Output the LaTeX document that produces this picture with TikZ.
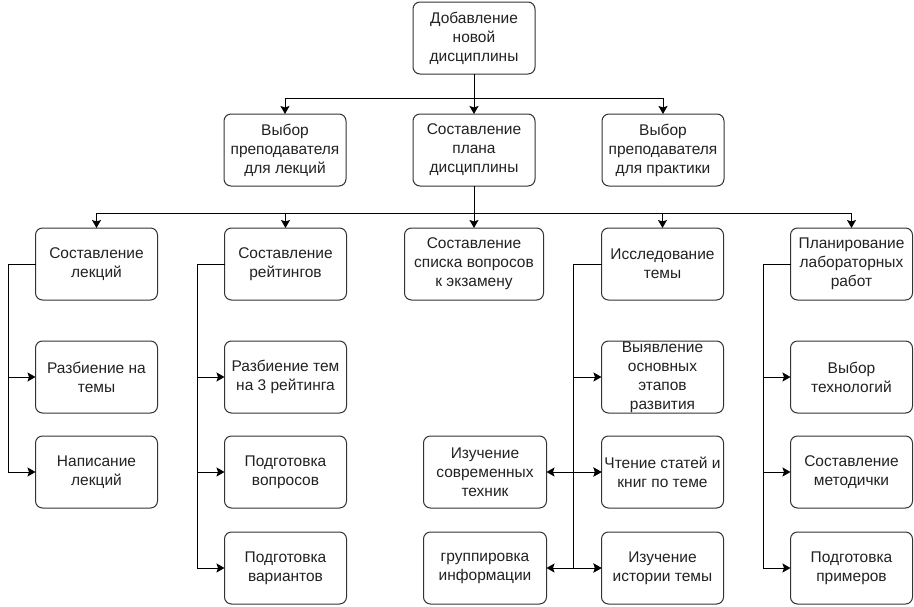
\documentclass[tikz,border=0pt]{standalone}
\usepackage{fontspec}
\setmainfont{Liberation Sans}
\usepackage{tikz}
\usetikzlibrary{arrows.meta,positioning}
\definecolor{boxline}{RGB}{51, 51, 51}
\definecolor{boxtext}{RGB}{34, 34, 34}

\begin{document}
\begin{tikzpicture}[
    box/.style={rectangle, draw=boxline, fill=white, minimum width=122pt, minimum height=72pt, align=center, rounded corners=7pt, line width=1pt, text=boxtext, font=\fontsize{15.5pt}{19pt}\selectfont, inner xsep=2pt, outer sep=0pt},
    widebox/.style={box, minimum width=139pt},
    arrow/.style={-{Stealth[length=8pt,width=9pt,inset=1.5pt]}, line width=1pt, black},
    twoarrow/.style={{Stealth[length=8pt,width=9pt,inset=1.5pt]}-{Stealth[length=8pt,width=9pt,inset=1.5pt]}, line width=1pt, black},
    bus/.style={line width=1pt, black},
]
\useasboundingbox (0pt,0pt) rectangle (914pt,-606pt);

% Level 1
\node[box] (add) at (474pt,-38pt) {Добавление\\новой\\дисциплины};

% Level 2
\node[box, below=40pt of add] (plan) {Составление\\плана\\дисциплины};
\node[box, left=67pt of plan] (tlec) {Выбор\\преподавателя\\для лекций};
\node[box, right=67pt of plan] (tprac) {Выбор\\преподавателя\\для практики};

% Level 3
\node[widebox, below=42pt of plan] (exam) {Составление\\списка вопросов\\к экзамену};
\node[box, left=58pt of exam] (rate) {Составление\\рейтингов};
\node[box, left=67pt of rate] (lect) {Составление\\лекций};
\node[box, right=58pt of exam] (study) {Исследование\\темы};
\node[box, right=67pt of study] (lab) {Планирование\\лабораторных\\работ};

% Lectures
\node[box, below=41pt of lect] (lect1) {Разбиение на\\темы};
\node[box, below=23pt of lect1] (lect2) {Написание\\лекций};

% Ratings
\node[box, below=41pt of rate] (rate1) {Разбиение тем\\на 3 рейтинга};
\node[box, below=23pt of rate1] (rate2) {Подготовка\\вопросов};
\node[box, below=24pt of rate2] (rate3) {Подготовка\\вариантов};

% Research
\node[box, inner ysep=0pt, below=41pt of study] (study1) {Выявление\\основных\\этапов\\развития};
\node[box, below=23pt of study1] (study2) {Чтение статей и\\книг по теме};
\node[box, below=24pt of study2] (study3) {Изучение\\истории темы};
\node[box, minimum width=123pt, left=55pt of study2] (modern) {Изучение\\современных\\техник};
\node[box, minimum width=123pt, left=55pt of study3] (group) {группировка\\информации};

% Labs
\node[box, below=41pt of lab] (lab1) {Выбор\\технологий};
\node[box, below=23pt of lab1] (lab2) {Составление\\методички};
\node[box, below=24pt of lab2] (lab3) {Подготовка\\примеров};

% Buses
\coordinate[below=24pt of add.south] (bustop);
\coordinate[below=27pt of plan.south] (busmid);
\coordinate[left=27pt of lect.west] (buslect);
\coordinate[left=27pt of rate.west] (busrate);
\coordinate[left=28pt of study.west] (busstudy);
\coordinate[left=27pt of lab.west] (buslab);

% Arrows level 2
\draw[arrow] (add) -- (plan);
\draw[arrow] (bustop) -| (tlec.north);
\draw[arrow] (bustop) -| (tprac.north);

% Arrows level 3
\draw[arrow] (plan) -- (exam);
\draw[arrow] (busmid) -| (lect.north);
\draw[arrow] (busmid) -| (rate.north);
\draw[arrow] (busmid) -| (study.north);
\draw[arrow] (busmid) -| (lab.north);

% Sub-branches
\draw[bus] (lect.west) -- (buslect);
\draw[arrow] (buslect) |- (lect1.west);
\draw[arrow] (buslect) |- (lect2.west);

\draw[bus] (rate.west) -- (busrate);
\draw[arrow] (busrate) |- (rate1.west);
\draw[arrow] (busrate) |- (rate2.west);
\draw[arrow] (busrate) |- (rate3.west);

\draw[bus] (study.west) -- (busstudy);
\draw[arrow] (busstudy) |- (study1.west);
\draw[arrow] (busstudy) |- (study2.west);
\draw[arrow] (busstudy) |- (study3.west);
\draw[twoarrow] (modern.east) -- (study2.west);
\draw[twoarrow] (group.east) -- (study3.west);

\draw[bus] (lab.west) -- (buslab);
\draw[arrow] (buslab) |- (lab1.west);
\draw[arrow] (buslab) |- (lab2.west);
\draw[arrow] (buslab) |- (lab3.west);
\end{tikzpicture}
\end{document}
